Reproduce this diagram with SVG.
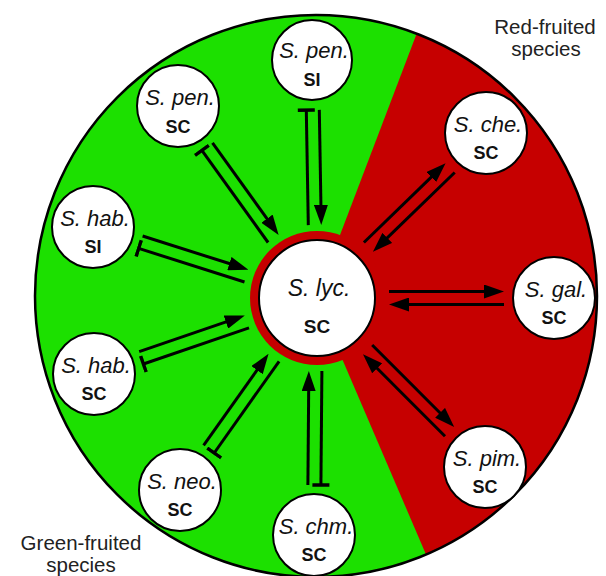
<svg xmlns="http://www.w3.org/2000/svg" width="606" height="576" viewBox="0 0 606 576">
<defs>
<style>
.bg-green{fill:#1ce000}
.bg-red{fill:#c60000}
.outline{fill:none;stroke:#000;stroke-width:2.5}
.node{fill:#fff;stroke:#000;stroke-width:2}
.ring{fill:#c60000}
.sp{font-family:"Liberation Sans",Arial,Helvetica,sans-serif;font-style:italic;font-size:22px;fill:#111;text-anchor:middle}
.sc{font-family:"Liberation Sans",Arial,Helvetica,sans-serif;font-weight:bold;font-size:18px;fill:#111;text-anchor:middle}
.lbl{font-family:"Liberation Sans",Arial,Helvetica,sans-serif;font-size:20.5px;fill:#222;text-anchor:middle}
.arr{fill:none;stroke:#000;stroke-width:3;marker-end:url(#arrow)}
.inh{fill:none;stroke:#000;stroke-width:3;marker-end:url(#tbar)}
</style>
<marker id="arrow" viewBox="0 0 20 14" markerWidth="20" markerHeight="14" refX="4" refY="7" markerUnits="userSpaceOnUse" orient="auto">
<path d="M0,0 L20,7 L0,14 Z" fill="#000"/>
</marker>
<marker id="tbar" viewBox="-2 -9 4 18" markerWidth="4" markerHeight="18" refX="0" refY="0" markerUnits="userSpaceOnUse" orient="auto">
<path d="M0,-8.5 V8.5" stroke="#000" stroke-width="3.5" fill="none"/>
</marker>
</defs>

<g id="sectors">
<circle class="bg-green" cx="316" cy="296" r="281"/>
<path class="bg-red" d="M316,298 L416.7,33.6 A281,281 0 0 1 426,554.5 Z"/>
<circle class="outline" cx="316" cy="296" r="281"/>
</g>

<g id="connectors">
<!-- S. pen. SI -->
<path class="inh" d="M308.3,225.1 L306.3,110.1"/>
<path class="arr" d="M319.3,109.9 L321,208.9"/>
<!-- S. pen. SC -->
<path class="inh" d="M268.1,242.5 L201.9,150.4"/>
<path class="arr" d="M212.5,142.8 L269.3,221.9"/>
<!-- S. hab. SI -->
<path class="inh" d="M244.5,282 L138.7,248.4"/>
<path class="arr" d="M142.6,236 L233.2,264.8"/>
<!-- S. hab. SC -->
<path class="inh" d="M249,327.8 L143.4,364"/>
<path class="arr" d="M139.2,351.7 L229.7,320.7"/>
<!-- S. neo. SC -->
<path class="inh" d="M279.1,361.3 L214.2,453"/>
<path class="arr" d="M203.6,445.4 L259.3,366.9"/>
<!-- S. chm. SC -->
<path class="inh" d="M321.9,371 L320.9,485"/>
<path class="arr" d="M307.9,485 L308.7,387"/>
<!-- S. che. SC -->
<path class="arr" d="M363.9,242.5 L434.1,174.3"/>
<path class="arr" d="M454.7,172.5 L384.4,240.7"/>
<!-- S. gal. SC -->
<path class="arr" d="M389,291.5 L488,291.5"/>
<path class="arr" d="M504,304.5 L405,304.5"/>
<!-- S. pim. SC -->
<path class="arr" d="M372.2,345 L442.9,415.7"/>
<path class="arr" d="M445,436.2 L374.3,365.5"/>
</g>

<g id="node-lyc">
<circle class="ring" cx="317" cy="298" r="67"/>
<circle class="node" cx="317" cy="298" r="58"/>
<text class="sp" x="319" y="296" style="font-size:23px">S. lyc.</text>
<text class="sc" x="317" y="333" style="font-size:19px">SC</text>
</g>

<g id="node-pen-si">
<circle class="node" cx="312" cy="60" r="40"/>
<text class="sp" x="314" y="58">S. pen.</text>
<text class="sc" x="312" y="86">SI</text>
</g>

<g id="node-pen-sc">
<circle class="node" cx="178" cy="106" r="41"/>
<text class="sp" x="180" y="105">S. pen.</text>
<text class="sc" x="178" y="133">SC</text>
</g>

<g id="node-hab-si">
<circle class="node" cx="93" cy="227" r="41"/>
<text class="sp" x="95" y="226">S. hab.</text>
<text class="sc" x="93" y="253">SI</text>
</g>

<g id="node-hab-sc">
<circle class="node" cx="94" cy="374" r="41"/>
<text class="sp" x="96" y="373">S. hab.</text>
<text class="sc" x="94" y="400">SC</text>
</g>

<g id="node-neo-sc">
<circle class="node" cx="180" cy="490" r="41"/>
<text class="sp" x="182" y="489">S. neo.</text>
<text class="sc" x="180" y="516">SC</text>
</g>

<g id="node-chm-sc">
<circle class="node" cx="314" cy="535" r="41"/>
<text class="sp" x="316" y="534">S. chm.</text>
<text class="sc" x="314" y="561">SC</text>
</g>

<g id="node-che-sc">
<circle class="node" cx="486" cy="133" r="41"/>
<text class="sp" x="488" y="132">S. che.</text>
<text class="sc" x="486" y="159">SC</text>
</g>

<g id="node-gal-sc">
<circle class="node" cx="554" cy="298" r="41"/>
<text class="sp" x="556" y="297">S. gal.</text>
<text class="sc" x="554" y="324">SC</text>
</g>

<g id="node-pim-sc">
<circle class="node" cx="485" cy="467" r="41"/>
<text class="sp" x="487" y="466">S. pim.</text>
<text class="sc" x="485" y="493">SC</text>
</g>

<g id="labels">
<text class="lbl" x="545" y="34">Red-fruited</text>
<text class="lbl" x="546" y="56">species</text>
<text class="lbl" x="81" y="550">Green-fruited</text>
<text class="lbl" x="81" y="572">species</text>
</g>
</svg>
